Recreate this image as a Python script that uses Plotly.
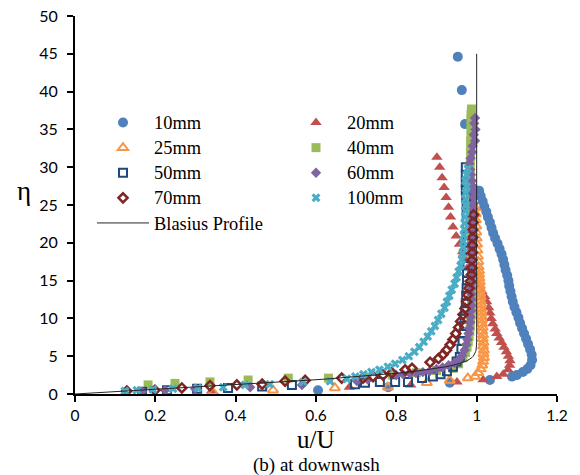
import plotly.graph_objects as go

# ---------------- measured profiles (u/U vs eta) ----------------
eta_10 = [0.5, 0.9, 1.5, 1.85, 2.3, 2.5, 2.9, 3.3, 3.8, 4.5,
          5.2, 5.9, 6.6, 7.3, 8.0, 8.7, 9.4, 10.1, 10.8, 11.5,
          12.2, 12.9, 13.6, 14.3, 15.0, 15.7, 16.4, 17.1, 17.8, 18.5,
          19.2, 19.9, 20.6, 21.3, 22.0, 22.7, 23.4, 24.1, 24.8, 25.5,
          26.2, 26.9, 35.7, 40.2, 44.6]
u_10 = [0.605, 0.78, 0.933, 1.033, 1.088, 1.1, 1.115, 1.126, 1.134, 1.138,
        1.137, 1.133, 1.128, 1.123, 1.118, 1.113, 1.108, 1.104, 1.099, 1.094,
        1.09, 1.087, 1.084, 1.081, 1.079, 1.076, 1.072, 1.069, 1.066, 1.062,
        1.057, 1.052, 1.046, 1.041, 1.037, 1.033, 1.028, 1.024, 1.019, 1.015,
        1.01, 1.006, 0.971, 0.963, 0.953]

eta_20 = [0.4, 0.9, 1.2, 1.6, 1.9, 2.3, 2.6, 3.2, 3.8, 4.4,
          5.0, 5.6, 6.2, 6.8, 7.4, 8.0, 8.6, 9.3, 10.0, 10.7,
          11.4, 12.2, 12.9, 13.6, 14.3, 15.1, 16.0, 16.9, 17.8, 18.8,
          19.8, 20.9, 22.1, 23.4, 24.7, 26.0, 27.3, 28.6, 30.0, 31.3]
u_20 = [0.34, 0.683, 0.836, 0.951, 1.016, 1.05, 1.066, 1.078, 1.082, 1.083,
        1.079, 1.074, 1.068, 1.062, 1.056, 1.05, 1.046, 1.04, 1.036, 1.033,
        1.03, 1.025, 1.02, 1.013, 1.005, 0.997, 0.988, 0.98, 0.972, 0.965,
        0.957, 0.949, 0.941, 0.935, 0.93, 0.924, 0.919, 0.914, 0.908, 0.901]

eta_25 = [0.2, 0.5, 0.8, 0.9, 1.5, 1.8, 2.1, 2.3,
          2.8, 3.3, 3.8, 4.3, 4.8, 5.3, 5.8, 6.3, 6.8, 7.3,
          7.8, 8.3, 8.8, 9.3, 9.8, 10.3, 10.8, 11.3, 11.8, 12.3,
          12.8, 13.3, 13.8, 14.3, 14.8, 15.3, 15.8, 16.3, 16.8,
          17.5, 18.2, 19.0, 19.8, 20.6, 21.4, 22.2, 23.0, 23.8, 24.6]
u_25 = [0.344, 0.493, 0.647, 0.779, 0.876, 0.933, 0.978, 0.996,
        1.004, 1.01, 1.014, 1.016, 1.018, 1.017, 1.018, 1.016, 1.017, 1.015,
        1.016, 1.014, 1.015, 1.013, 1.013, 1.012, 1.012, 1.011, 1.011, 1.01,
        1.01, 1.009, 1.009, 1.008, 1.008, 1.007, 1.006, 1.006, 1.005,
        1.004, 1.003, 1.002, 1.001, 1.0, 0.999, 0.999, 0.998, 0.998, 0.997]

eta_40 = [1.2, 1.4, 1.6, 1.85, 2.1, 2.1, 2.2, 2.5, 2.8, 3.1, 3.4, 4.0,
          4.8, 5.5, 6.2, 6.9, 7.6, 8.3, 9.0, 9.7, 10.4, 11.1,
          11.8, 12.5, 13.2, 13.9, 14.6, 15.3, 16.0, 16.7, 17.4, 18.1,
          18.8, 19.5, 20.2, 20.9, 21.6, 22.3, 23.0, 23.7, 24.4, 25.1,
          25.8, 26.5, 27.2, 27.9, 28.6, 29.3, 30.0, 30.7, 31.4, 32.1,
          32.8, 33.5, 34.2, 34.9, 35.6, 36.3, 37.0, 37.7]
u_40 = [0.182, 0.249, 0.336, 0.431, 0.531, 0.631, 0.727, 0.79, 0.85, 0.9, 0.941, 0.955,
        0.966, 0.972, 0.976, 0.979, 0.981, 0.983, 0.984, 0.985, 0.986, 0.987,
        0.987, 0.988, 0.988, 0.988, 0.989, 0.989, 0.989, 0.988, 0.988, 0.988,
        0.987, 0.987, 0.987, 0.986, 0.986, 0.986, 0.985, 0.985, 0.985, 0.985,
        0.984, 0.984, 0.984, 0.984, 0.984, 0.984, 0.984, 0.984, 0.985, 0.985,
        0.985, 0.985, 0.986, 0.986, 0.986, 0.986, 0.986, 0.987]

eta_50 = [0.3, 0.5, 0.7, 0.8, 1.0, 1.2, 1.3, 1.5, 1.6, 1.6,
          1.6, 2.1, 2.3, 2.6, 3.0, 3.6, 4.3, 4.9,
          6.0, 7.0, 8.0, 9.0, 10.0, 11.0, 12.0, 13.0, 14.0, 15.0,
          16.0, 17.0, 18.0, 19.0, 20.0, 21.0, 22.0, 23.0, 24.0, 25.0,
          26.0, 27.0, 28.0, 29.0, 30.0]
u_50 = [0.167, 0.229, 0.304, 0.381, 0.466, 0.54, 0.697, 0.722, 0.759, 0.797,
        0.829, 0.864, 0.891, 0.91, 0.926, 0.941, 0.95, 0.958,
        0.962, 0.965, 0.967, 0.969, 0.97, 0.972, 0.973, 0.974, 0.975, 0.976,
        0.976, 0.977, 0.977, 0.977, 0.977, 0.977, 0.976, 0.976, 0.975, 0.975,
        0.974, 0.973, 0.973, 0.973, 0.973]

eta_60 = [0.3, 0.5, 0.7, 0.9, 1.2, 1.7, 1.9, 2.5, 2.6, 2.7,
          2.8, 2.9, 3.0, 3.3, 3.5, 3.8, 4.1, 4.5, 5.1, 5.8,
          6.5, 7.2, 8.0, 8.7, 9.5, 10.2, 11.0, 11.7, 12.5, 13.2,
          14.0, 14.7, 15.5, 16.2, 17.0, 17.7, 18.5, 19.2, 20.0, 20.7,
          21.5, 22.2, 23.0, 23.7, 24.5, 25.2, 26.0, 26.7, 27.5, 28.2,
          29.0, 29.7, 30.5, 31.2, 32.0, 32.8, 33.5, 34.3, 35.0, 35.8,
          36.5]
u_60 = [0.167, 0.224, 0.299, 0.436, 0.565, 0.702, 0.729, 0.8, 0.817, 0.834,
        0.849, 0.866, 0.883, 0.9, 0.915, 0.93, 0.945, 0.955, 0.964, 0.97,
        0.974, 0.977, 0.98, 0.982, 0.984, 0.985, 0.986, 0.987, 0.987, 0.987,
        0.988, 0.988, 0.988, 0.988, 0.988, 0.988, 0.988, 0.988, 0.988, 0.989,
        0.989, 0.989, 0.99, 0.99, 0.991, 0.992, 0.993, 0.992, 0.99, 0.988,
        0.986, 0.984, 0.982, 0.985, 0.989, 0.99, 0.996, 0.993, 0.997, 0.994,
        0.996]

eta_70 = [0.4, 0.5, 0.8, 1.1, 1.2, 1.3, 1.7, 1.8, 2.1, 2.1,
          2.3, 2.5, 2.8, 3.2, 3.4, 4.2, 4.7, 5.2, 5.8, 6.5,
          7.2, 8.0, 8.8, 9.6, 10.5, 11.3, 12.2, 13.1, 14.0, 14.9,
          15.8, 16.7, 17.7, 18.7, 19.7, 20.7, 21.7, 22.7, 23.7]
u_70 = [0.129, 0.199, 0.266, 0.336, 0.403, 0.466, 0.523, 0.573, 0.664, 0.717,
        0.742, 0.767, 0.789, 0.822, 0.839, 0.884, 0.905, 0.916, 0.925, 0.934,
        0.941, 0.948, 0.955, 0.96, 0.966, 0.971, 0.975, 0.978, 0.981, 0.984,
        0.987, 0.988, 0.988, 0.989, 0.989, 0.99, 0.99, 0.991, 0.992]

eta_100 = [0.4, 0.5, 0.6, 0.7, 0.8, 0.9, 1.2, 1.3, 1.6, 1.7,
           2.0, 2.3, 2.6, 2.9, 3.2, 3.6, 4.0, 4.5, 5.0, 5.6,
           6.2, 6.9, 7.6, 8.3, 9.0, 9.8, 10.6, 11.4, 12.2, 13.0,
           13.8, 14.6, 15.4, 16.2, 17.0, 17.8, 18.6, 19.4, 20.2, 21.0,
           21.8, 22.6, 23.4, 24.2, 25.0, 25.8, 26.6, 27.4, 28.2, 29.0,
           29.8]
u_100 = [0.124, 0.154, 0.194, 0.244, 0.306, 0.369, 0.423, 0.485, 0.568, 0.635,
         0.677, 0.698, 0.718, 0.738, 0.758, 0.779, 0.797, 0.815, 0.831, 0.845,
         0.857, 0.868, 0.878, 0.887, 0.896, 0.904, 0.912, 0.92, 0.926, 0.932,
         0.938, 0.945, 0.95, 0.955, 0.96, 0.963, 0.965, 0.966, 0.967, 0.968,
         0.969, 0.97, 0.971, 0.972, 0.973, 0.972, 0.973, 0.975, 0.972, 0.975,
         0.978]

# Blasius similarity solution f'(eta), tabulated
eta_bl = [0.0, 0.2, 0.4, 0.6, 0.8, 1.0, 1.2, 1.4, 1.6, 1.8,
          2.0, 2.2, 2.4, 2.6, 2.8, 3.0, 3.2, 3.4, 3.6, 3.8,
          4.0, 4.2, 4.4, 4.6, 4.8, 5.0, 5.2, 5.4, 5.6, 5.8,
          6.0, 6.5, 7.0, 8.0, 45.0]
u_bl = [0.0, 0.06641, 0.13277, 0.19894, 0.26471, 0.32979, 0.39378, 0.45627, 0.51676, 0.57477,
        0.62977, 0.68132, 0.72899, 0.77246, 0.81152, 0.84605, 0.87609, 0.90177, 0.92333, 0.94112,
        0.95552, 0.96696, 0.97587, 0.98269, 0.98779, 0.99155, 0.99425, 0.99616, 0.99748, 0.99838,
        0.99898, 0.99973, 0.99992, 1.0, 1.0]

x_ticks = [0, 0.2, 0.4, 0.6, 0.8, 1.0, 1.2]
x_tick_text = ["0", "0.2", "0.4", "0.6", "0.8", "1", "1.2"]
y_ticks = [0, 5, 10, 15, 20, 25, 30, 35, 40, 45, 50]

SERIF = "Liberation Serif, Times New Roman, serif"
SANS = "Lato, Open Sans, sans-serif"

# plot-area geometry in pixels (used to place legends and labels)
W, H = 580, 475
ML, MR, MT, MB = 75, 23, 16, 81
PW, PH = W - ML - MR, H - MT - MB


def px_x(px):
    return (px - ML) / PW


def px_y(py):
    return (H - MB - py) / PH


def leg(text):
    return '<span style="font-size:18.4px">' + text + '</span>'


series = [
    # name, u, eta, symbol, colour, size, outline width, legend
    ("10mm", u_10, eta_10, "circle", "#4F81BD", 10, 0, "legend"),
    ("20mm", u_20, eta_20, "triangle-up", "#C0504D", 10, 0, "legend2"),
    ("25mm", u_25, eta_25, "triangle-up-open", "#F79646", 9, 2, "legend"),
    ("40mm", u_40, eta_40, "square", "#9BBB59", 9, 0, "legend2"),
    ("50mm", u_50, eta_50, "square-open", "#1F497D", 8, 2, "legend"),
    ("60mm", u_60, eta_60, "diamond", "#8064A2", 8, 0, "legend2"),
    ("70mm", u_70, eta_70, "diamond-open", "#7F2624", 7, 2.5, "legend"),
    ("100mm", u_100, eta_100, "x", "#4BACC6", 8, 0, "legend2"),
]

fig = go.Figure()
for name, u, eta, sym, col, size, lw, lg in series:
    marker = dict(symbol=sym, color=col, size=size)
    marker["line"] = dict(color=col, width=lw) if lw else dict(width=0)
    fig.add_trace(go.Scatter(x=u, y=eta, mode="markers", name=leg(name),
                             marker=marker, legend=lg, hoverinfo="skip"))

fig.add_trace(go.Scatter(x=u_bl, y=eta_bl, mode="lines", name=leg("Blasius Profile"),
                         line=dict(color="#262626", width=1), legend="legend",
                         hoverinfo="skip"))

axis_common = dict(
    showgrid=False, zeroline=False, showline=True, linecolor="black", linewidth=2,
    ticks="outside", tickcolor="black", tickwidth=1.5,
    mirror=False, fixedrange=True, automargin=False,
)

fig.update_xaxes(range=[0, 1.2], tickvals=x_ticks, ticktext=x_tick_text,
                 ticklen=6, tickfont=dict(family=SANS, size=15.5, color="#000000"),
                 **axis_common)
fig.update_yaxes(range=[0, 50], tickvals=y_ticks, ticklen=6,
                 ticklabelstandoff=6, tickfont=dict(family=SANS, size=16, color="#000000"),
                 **axis_common)

legend_common = dict(
    xref="paper", yref="paper", xanchor="left", yanchor="top",
    bgcolor="rgba(0,0,0,0)", borderwidth=0, itemwidth=52,
    font=dict(family=SERIF, size=17, color="#000000"),
    orientation="v", tracegroupgap=0,
)

fig.update_layout(
    width=W, height=H,
    margin=dict(l=ML, r=MR, t=MT, b=MB, autoexpand=False),
    paper_bgcolor="white", plot_bgcolor="white",
    showlegend=True,
    legend=dict(x=px_x(92), y=px_y(105), **legend_common),
    legend2=dict(x=px_x(285), y=px_y(105), **legend_common),
    annotations=[
        dict(text="u/U", xref="paper", yref="paper", x=0.5, y=px_y(439),
             showarrow=False, xanchor="center", yanchor="middle", borderpad=0,
             font=dict(family=SERIF, size=25, color="#000000")),
        dict(text="(b) at downwash", xref="paper", yref="paper", x=0.5, y=px_y(464.5),
             showarrow=False, xanchor="center", yanchor="middle", borderpad=0,
             font=dict(family=SERIF, size=19, color="#000000")),
        dict(text="η", xref="paper", yref="paper", x=px_x(24), y=px_y(191),
             showarrow=False, xanchor="center", yanchor="middle", borderpad=0,
             font=dict(family=SERIF, size=27, color="#000000")),
    ],
)

fig.write_html("out.html")
